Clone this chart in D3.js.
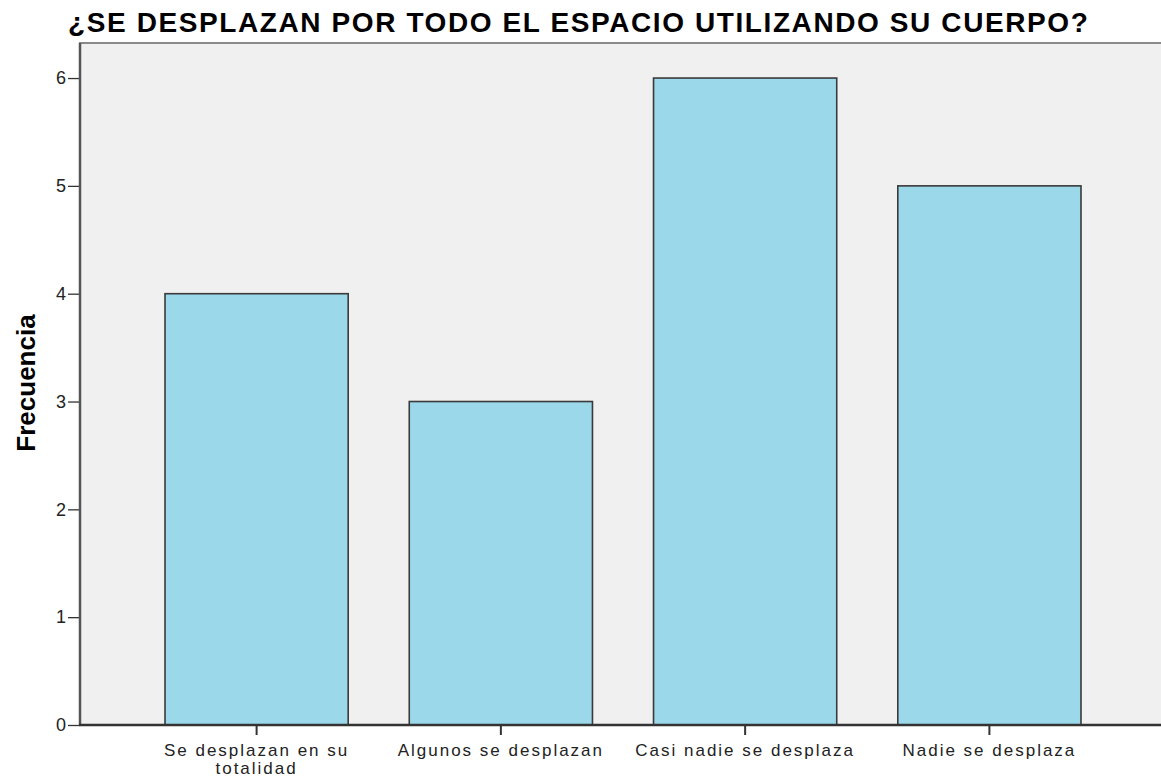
<!DOCTYPE html>
<html>
<head>
<meta charset="utf-8">
<script src="https://cdn.jsdelivr.net/npm/d3@7"></script>
<style>
  html, body { margin: 0; padding: 0; background: #fff; }
  svg { display: block; font-family: "Liberation Sans", Arial, sans-serif; }
  .title { font-size: 28px; font-weight: bold; fill: #000; letter-spacing: 1.6px; }
  .ylabel { font-size: 26px; font-weight: bold; fill: #000; }
  .tick text { font-size: 18px; fill: #222; }
  .xlab { font-size: 17px; fill: #222; letter-spacing: 2px; }
  .bar { fill: #9bd8e9; stroke: #3a3a3a; stroke-width: 1.6; }
</style>
</head>
<body>
<svg id="chart" width="1161" height="778"></svg>
<script>
// ¿Se desplazan por todo el espacio utilizando su cuerpo? — frecuencias por categoría
const categories = [
  ['Se desplazan en su', 'totalidad'],
  ['Algunos se desplazan'],
  ['Casi nadie se desplaza'],
  ['Nadie se desplaza'],
];
const frecuencias = [4, 3, 6, 5];
const yTicks = [0, 1, 2, 3, 4, 5, 6];
const titulo = '¿SE DESPLAZAN POR TODO EL ESPACIO UTILIZANDO SU CUERPO?';
const yTitulo = 'Frecuencia';

const W = 1161, H = 778;
const plotLeft = 80, plotTop = 43, plotBottom = 725;
const plotRight = 1166; // plot frame runs off the right edge

const svg = d3.select('#chart');

const x = d3.scaleBand()
  .domain(d3.range(categories.length))
  .range([plotLeft, plotRight])
  .paddingInner(0.25)
  .paddingOuter(0.348);

const y = d3.scaleLinear()
  .domain([0, 6.325])
  .range([plotBottom, plotTop]);

// plot background
svg.append('rect')
  .attr('x', plotLeft).attr('y', plotTop)
  .attr('width', W - plotLeft + 10).attr('height', plotBottom - plotTop)
  .attr('fill', '#f0f0f0')
  .attr('stroke', '#8a8a8a').attr('stroke-width', 2);

// bars
svg.append('g').selectAll('rect')
  .data(frecuencias)
  .join('rect')
  .attr('class', 'bar')
  .attr('x', (d, i) => x(i))
  .attr('y', d => y(d))
  .attr('width', x.bandwidth())
  .attr('height', d => y(0) - y(d));

// y axis
const yAxis = svg.append('g')
  .attr('transform', `translate(${plotLeft},0)`)
  .call(d3.axisLeft(y).tickValues(yTicks).tickSize(12).tickPadding(2).tickFormat(d3.format('d')));
yAxis.select('.domain').remove();
yAxis.selectAll('.tick line').attr('stroke', '#333').attr('stroke-width', 1.3);
svg.append('line')
  .attr('x1', plotLeft).attr('x2', plotLeft)
  .attr('y1', plotTop).attr('y2', plotBottom + 1)
  .attr('stroke', '#555').attr('stroke-width', 2.5);

// x axis
const xAxis = svg.append('g')
  .attr('transform', `translate(0,${plotBottom})`)
  .call(d3.axisBottom(x).tickSize(10).tickFormat(''));
xAxis.select('.domain').remove();
xAxis.selectAll('.tick line').attr('stroke', '#333').attr('stroke-width', 2);
svg.append('line')
  .attr('x1', plotLeft - 1).attr('x2', W)
  .attr('y1', plotBottom).attr('y2', plotBottom)
  .attr('stroke', '#333').attr('stroke-width', 2.5);

// category labels
const labs = svg.append('g').selectAll('text')
  .data(categories)
  .join('text')
  .attr('class', 'xlab')
  .attr('text-anchor', 'middle')
  .attr('x', (d, i) => x(i) + x.bandwidth() / 2)
  .attr('y', 755.5);
labs.selectAll('tspan')
  .data(d => d)
  .join('tspan')
  .attr('x', function () { return d3.select(this.parentNode).attr('x'); })
  .attr('dy', (d, j) => j === 0 ? 0 : 18.5)
  .text(d => d);

// title
svg.append('text')
  .attr('class', 'title')
  .attr('x', 68).attr('y', 31.5)
  .text(titulo);

// y title
svg.append('text')
  .attr('class', 'ylabel')
  .attr('text-anchor', 'middle')
  .attr('transform', 'translate(35,383) rotate(-90)')
  .text(yTitulo);
</script>
</body>
</html>
